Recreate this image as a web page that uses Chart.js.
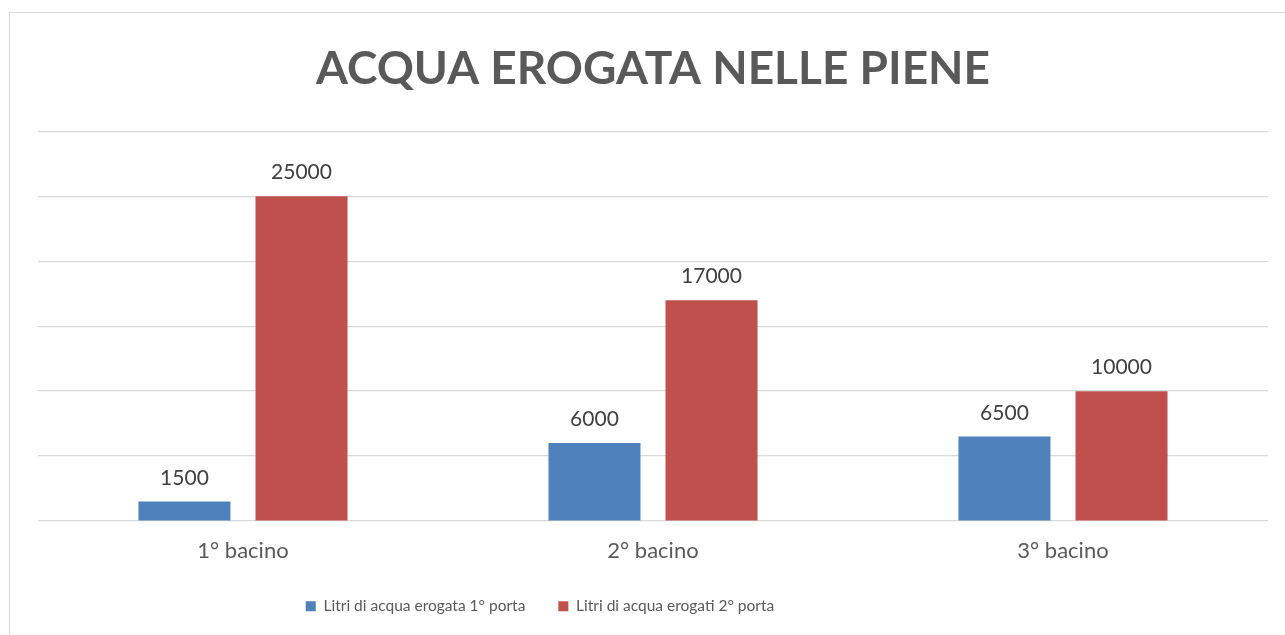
<!DOCTYPE html>
<html>
<head>
<meta charset="utf-8">
<script src="https://cdn.jsdelivr.net/npm/chart.js@4"></script>
<style>
  html, body { margin: 0; padding: 0; background: #ffffff; }
  #wrap { position: relative; width: 1285px; height: 635px; overflow: hidden; }
  #frame { position: absolute; left: 9px; top: 12px; width: 1400px; height: 800px; border: 1px solid #d9d9d9; box-sizing: border-box; }
  #c { position: absolute; left: 0; top: 0; }
</style>
</head>
<body>
<div id="wrap">
  <div id="frame"></div>
  <canvas id="c" width="1285" height="635"></canvas>
</div>
<script>
const chartTitle = "ACQUA EROGATA NELLE PIENE";
const categories = ["1° bacino", "2° bacino", "3° bacino"];
const seriesNames = ["Litri di acqua erogata 1° porta", "Litri di acqua erogati 2° porta"];
const porta1 = [1500, 6000, 6500];
const porta2 = [25000, 17000, 10000];
const yMin = 0, yMax = 30000, yStep = 5000;

const valueLabels = {
  id: 'valueLabels',
  afterDatasetsDraw(chart) {
    const ctx = chart.ctx;
    ctx.save();
    ctx.font = '21px Lato';
    ctx.fillStyle = '#404040';
    ctx.textAlign = 'center';
    ctx.textBaseline = 'alphabetic';
    chart.data.datasets.forEach((ds, di) => {
      const meta = chart.getDatasetMeta(di);
      meta.data.forEach((el, i) => {
        ctx.fillText(String(ds.data[i]), el.x, el.y - 17);
      });
    });
    ctx.restore();
  }
};

// the reference legend sits left of the plot centre
const legendShift = {
  id: 'legendShift',
  afterLayout(chart) {
    const lg = chart.legend;
    if (lg) { lg.left -= 113; lg.right -= 113; }
  }
};

const xTickPad = 17;
const xTickSize = 22;

new Chart(document.getElementById('c'), {
  type: 'bar',
  data: {
    labels: categories,
    datasets: [
      { label: seriesNames[0], data: porta1, backgroundColor: '#4f81bd' },
      { label: seriesNames[1], data: porta2, backgroundColor: '#c0504d' }
    ]
  },
  options: {
    responsive: false,
    animation: false,
    devicePixelRatio: 1,
    categoryPercentage: 0.571,
    barPercentage: 0.786,
    layout: { padding: { left: 38, right: 17, top: 0, bottom: 11 } },
    scales: {
      x: {
        grid: { display: false, drawTicks: false },
        border: { display: false },
        ticks: { color: '#595959', font: { family: 'Lato', size: xTickSize }, padding: xTickPad },
        afterFit(scale) { scale.height = xTickPad + xTickSize * 1.2 + 1; }
      },
      y: {
        min: yMin, max: yMax,
        grid: { color: '#d9d9d9', lineWidth: 1.3, drawTicks: false },
        border: { display: false },
        ticks: { display: false, stepSize: yStep }
      }
    },
    plugins: {
      title: {
        display: true,
        text: chartTitle,
        color: '#595959',
        font: { family: 'Lato', size: 46, weight: 'bold' },
        padding: { top: 42, bottom: 34 }
      },
      legend: {
        position: 'bottom',
        labels: {
          color: '#595959',
          font: { family: 'Lato', size: 15.5 },
          boxWidth: 10, boxHeight: 10,
          padding: 33
        }
      },
      tooltip: { enabled: false }
    }
  },
  plugins: [valueLabels, legendShift]
});
</script>
</body>
</html>
